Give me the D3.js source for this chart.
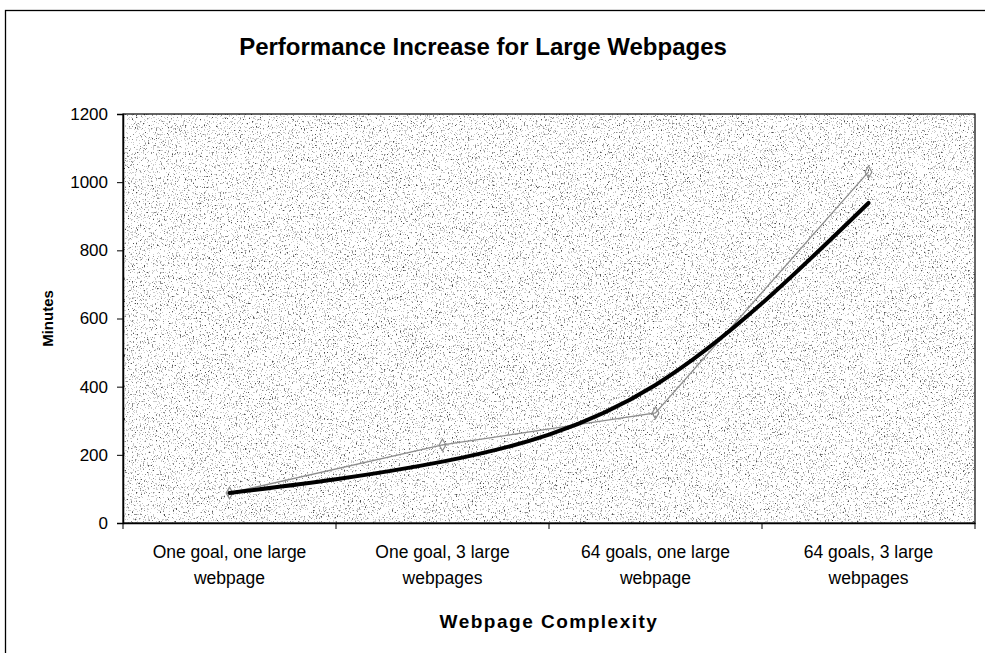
<!DOCTYPE html>
<html>
<head>
<meta charset="utf-8">
<script src="https://cdn.jsdelivr.net/npm/d3@7"></script>
<style>
  body { margin: 0; background: #fff; }
  svg text { font-family: "Liberation Sans", Arial, sans-serif; fill: #000; }
</style>
</head>
<body>
<div id="chart"></div>
<script>
// Data
const categories = [
  ["One goal, one large", "webpage"],
  ["One goal, 3 large", "webpages"],
  ["64 goals, one large", "webpage"],
  ["64 goals, 3 large", "webpages"]
];
const measured = [88, 229, 323, 1030];   // thin grey series with markers
const trend = [88, 180, 405, 939];       // bold smoothed trend line
const yTicks = [0, 200, 400, 600, 800, 1000, 1200];

const W = 985, H = 653;
const margin = { top: 114, right: 10, bottom: 130, left: 123 };
const plotW = 975 - margin.left;
const plotH = 523 - margin.top;

const svg = d3.select("#chart").append("svg")
    .attr("width", W)
    .attr("height", H);

// speckled scan texture
const defs = svg.append("defs");
const f = defs.append("filter").attr("id", "speckle")
    .attr("x", 0).attr("y", 0).attr("width", 1).attr("height", 1);
f.append("feTurbulence").attr("type", "fractalNoise")
    .attr("baseFrequency", "0.75 0.55").attr("numOctaves", 2).attr("seed", 7);
f.append("feColorMatrix").attr("type", "matrix")
    .attr("values", "0 0 0 0 0  0 0 0 0 0  0 0 0 0 0  1.6 0 0 0 -0.35");
f.append("feComponentTransfer").append("feFuncA")
    .attr("type", "discrete").attr("tableValues", "0 0 0 0 0 0.2 0.45 0.7");

// outer chart border
svg.append("rect")
    .attr("x", 5.5).attr("y", 10.5)
    .attr("width", 985).attr("height", 700)
    .attr("fill", "none").attr("stroke", "#000").attr("stroke-width", 1.3);

// title
svg.append("text")
    .attr("x", 483).attr("y", 55)
    .attr("text-anchor", "middle")
    .style("font-weight", "bold").style("font-size", "24px")
    .text("Performance Increase for Large Webpages");

const g = svg.append("g").attr("transform", `translate(${margin.left},${margin.top})`);

// plot area
g.append("rect").attr("width", plotW).attr("height", plotH).attr("fill", "#fff");
g.append("rect").attr("width", plotW).attr("height", plotH).attr("filter", "url(#speckle)");
g.append("rect").attr("width", plotW).attr("height", plotH)
    .attr("fill", "none").attr("stroke", "#000").attr("stroke-width", 1.2);

// Scales
const x = d3.scaleBand()
    .domain(d3.range(categories.length))
    .range([0, plotW]);

const y = d3.scaleLinear()
    .domain([0, 1200])
    .range([plotH, 0]);

const cx = i => x(i) + x.bandwidth() / 2;

// Axes
const yAxis = g.append("g")
    .call(d3.axisLeft(y).tickValues(yTicks).tickSize(6).tickPadding(9).tickFormat(d3.format("d")));
yAxis.select(".domain").attr("stroke-width", 1.5);
yAxis.selectAll("text").style("font-size", "17px");

const xAxis = g.append("g").attr("transform", `translate(0,${plotH})`)
    .call(d3.axisBottom(x).tickSize(0).tickFormat(""));
xAxis.select(".domain").attr("stroke-width", 1.5);

// category boundary ticks
g.append("g").selectAll("line")
    .data(d3.range(categories.length + 1))
    .enter().append("line")
    .attr("x1", i => i * x.step()).attr("x2", i => i * x.step())
    .attr("y1", plotH).attr("y2", plotH + 6)
    .attr("stroke", "#000");

// category labels (two lines)
const labels = g.append("g").selectAll("text")
    .data(categories)
    .enter().append("text")
    .attr("text-anchor", "middle")
    .attr("x", (d, i) => cx(i))
    .attr("y", plotH + 35)
    .style("font-size", "17.5px");
labels.append("tspan").attr("x", (d, i) => cx(i)).text(d => d[0]);
labels.append("tspan").attr("x", (d, i) => cx(i)).attr("dy", 26).text(d => d[1]);

// axis titles
svg.append("text")
    .attr("x", margin.left + plotW / 2).attr("y", 628)
    .attr("text-anchor", "middle")
    .style("font-weight", "bold").style("font-size", "19px")
    .style("letter-spacing", "1.5px")
    .text("Webpage Complexity");

svg.append("text")
    .attr("transform", `translate(53,${margin.top + plotH / 2}) rotate(-90)`)
    .attr("text-anchor", "middle")
    .style("font-weight", "bold").style("font-size", "15px")
    .text("Minutes");

// Measured series: thin grey line with markers
const line = d3.line()
    .x((d, i) => cx(i))
    .y(d => y(d));

g.append("path")
    .datum(measured)
    .attr("fill", "none")
    .attr("stroke", "#8c8c8c")
    .attr("stroke-width", 1.3)
    .attr("d", line);

g.selectAll(".marker")
    .data(measured)
    .enter().append("path")
    .attr("class", "marker")
    .attr("transform", (d, i) => `translate(${cx(i)},${y(d)})`)
    .attr("d", d3.symbol().type(d3.symbolDiamond).size(40))
    .attr("fill", "none")
    .attr("stroke", "#8c8c8c")
    .attr("stroke-width", 1.2);

// Bold trend line
const smooth = d3.line()
    .x((d, i) => cx(i))
    .y(d => y(d))
    .curve(d3.curveNatural);

g.append("path")
    .datum(trend)
    .attr("fill", "none")
    .attr("stroke", "#000")
    .attr("stroke-width", 4)
    .attr("stroke-linecap", "round")
    .attr("d", smooth);
</script>
</body>
</html>
